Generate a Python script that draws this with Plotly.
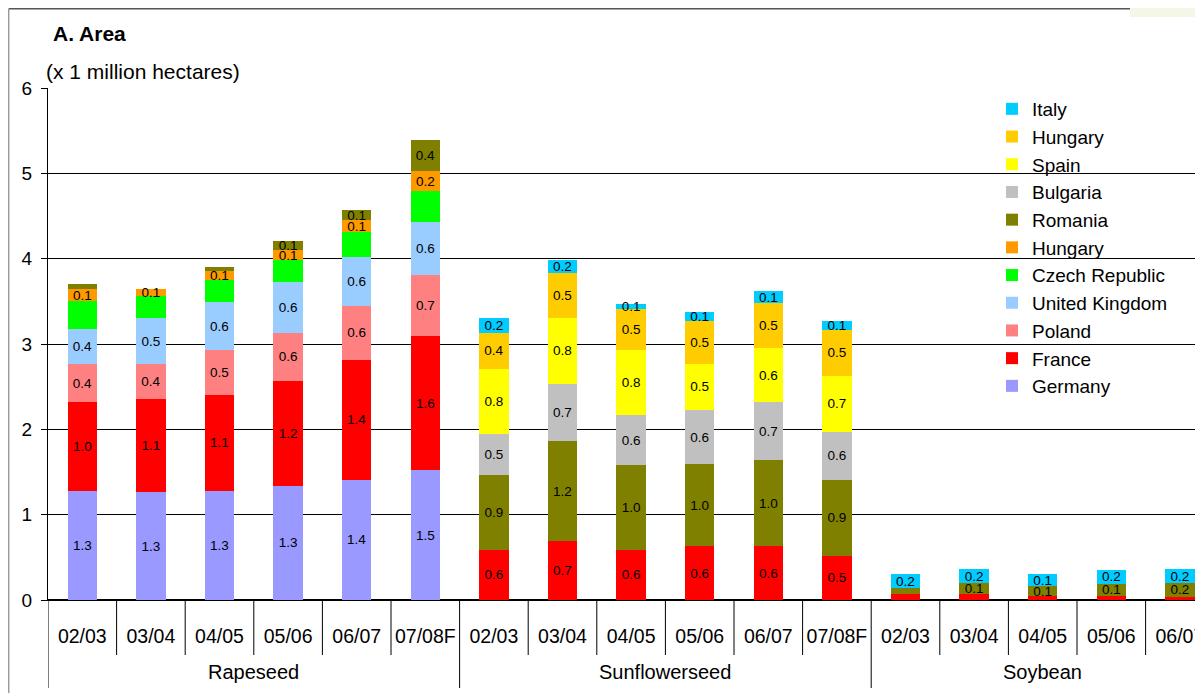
import plotly.graph_objects as go

# ---------------- data ----------------
seasons = ["02/03", "03/04", "04/05", "05/06", "06/07", "07/08F",
           "02/03", "03/04", "04/05", "05/06", "06/07", "07/08F",
           "02/03", "03/04", "04/05", "05/06", "06/07"]
crops = ["Rapeseed", "Sunflowerseed", "Soybean"]
crop_sizes = [6, 6, 5]

germany   = [1.28, 1.26, 1.28, 1.34, 1.41, 1.52, None, None, None, None, None, None, None, None, None, None, None]
france    = [1.04, 1.09, 1.12, 1.23, 1.40, 1.57, 0.59, 0.69, 0.59, 0.63, 0.63, 0.52, 0.07, 0.07, 0.05, 0.05, 0.04]
poland    = [0.44, 0.41, 0.53, 0.56, 0.64, 0.72, None, None, None, None, None, None, None, None, None, None, None]
uk        = [0.42, 0.54, 0.56, 0.60, 0.57, 0.62, None, None, None, None, None, None, None, None, None, None, None]
czech     = [0.32, 0.26, 0.26, 0.25, 0.29, 0.36, None, None, None, None, None, None, None, None, None, None, None]
hungary_r = [0.14, 0.08, 0.11, 0.12, 0.14, 0.24, None, None, None, None, None, None, None, None, None, None, None]
romania   = [0.06, None, 0.04, 0.11, 0.12, 0.36, 0.88, 1.17, 0.99, 0.96, 1.01, 0.89, 0.07, 0.13, 0.11, 0.14, 0.16]
bulgaria  = [None, None, None, None, None, None, 0.48, 0.67, 0.59, 0.64, 0.68, 0.56, None, None, None, None, None]
spain     = [None, None, None, None, None, None, 0.76, 0.78, 0.76, 0.54, 0.63, 0.66, None, None, None, None, None]
hungary_s = [None, None, None, None, None, None, 0.42, 0.52, 0.48, 0.50, 0.53, 0.53, None, None, None, None, None]
italy     = [None, None, None, None, None, None, 0.18, 0.16, 0.06, 0.11, 0.14, 0.11, 0.16, 0.16, 0.14, 0.16, 0.16]

# series: (name, values, colour, indices whose data label is not shown)
series = [
    ("Germany", germany, "#9999FF", []),
    ("France", france, "#FF0000", [12, 13, 14, 15, 16]),
    ("Poland", poland, "#FF8080", []),
    ("United Kingdom", uk, "#99CCFF", []),
    ("Czech Republic", czech, "#00FF00", list(range(17))),
    ("Hungary", hungary_r, "#FF9900", []),
    ("Romania", romania, "#808000", [0, 2, 12]),
    ("Bulgaria", bulgaria, "#C0C0C0", []),
    ("Spain", spain, "#FFFF00", []),
    ("Hungary", hungary_s, "#FFCC00", []),
    ("Italy", italy, "#00CCFF", []),
]

FONT = "Liberation Sans, Arial, sans-serif"
OFF = 8                      # page body margin
W, H = 1203 - OFF, 693 - OFF
ML, MT = 48 - OFF, 88 - OFF
MB = H - (600 - OFF)
CAT_PX = 68.6
plot_w = W - ML
plot_h = H - MT - MB
xpos = list(range(len(seasons)))


def px_x(rx):
    """screen x (reference pixels) -> paper"""
    return (rx - OFF - ML) / plot_w


def px_y(ry):
    """screen y (reference pixels) -> paper"""
    return (H - MB - (ry - OFF)) / plot_h


fig = go.Figure()
for name, vals, col, hidden in series:
    txt = ["" if (v is None or i in hidden) else f"{v:.1f}" for i, v in enumerate(vals)]
    fig.add_trace(go.Bar(
        x=xpos, y=vals, name=name, marker=dict(color=col, line=dict(width=0)),
        text=txt, textposition="inside", insidetextanchor="middle",
        textangle=0, constraintext="none",
        textfont=dict(family=FONT, size=13.5, color="black"),
        hoverinfo="name+y",
    ))

shapes = []
start = 0
group_edges = []
for size in crop_sizes:
    group_edges.append(start - 0.5)
    start += size
group_edges.append(start - 0.5)
for i in range(len(seasons) + 1):
    xe = i - 0.5
    long = xe in group_edges
    shapes.append(dict(type="line", xref="x", yref="paper", x0=xe, x1=xe,
                       y0=0, y1=px_y(688 if long else 655),
                       line=dict(color="black", width=1)))
# outer chart border (partially visible)
shapes.append(dict(type="line", xref="paper", yref="paper",
                   x0=px_x(8.7), x1=px_x(1130), y0=px_y(8.7), y1=px_y(8.7),
                   line=dict(color="#555555", width=1.5)))
shapes.append(dict(type="line", xref="paper", yref="paper",
                   x0=px_x(8.7), x1=px_x(8.7), y0=px_y(8.7), y1=px_y(700),
                   line=dict(color="#9a9a9a", width=1.5)))
shapes.append(dict(type="rect", xref="paper", yref="paper",
                   x0=px_x(1130), x1=px_x(1210), y0=px_y(0), y1=px_y(17),
                   fillcolor="#F6F6E6", line=dict(width=0), layer="below"))

annotations = []
start = 0
for crop, size in zip(crops, crop_sizes):
    annotations.append(dict(x=start + (size - 1) / 2, y=px_y(672), xref="x", yref="paper",
                            text=crop, showarrow=False, xanchor="center", yanchor="middle",
                            font=dict(family=FONT, size=20, color="black")))
    start += size
annotations.append(dict(x=px_x(51), y=px_y(33), xref="paper", yref="paper",
                        text="<b>A. Area</b>", showarrow=False, xanchor="left", yanchor="middle",
                        font=dict(family=FONT, size=21, color="black")))
annotations.append(dict(x=px_x(44), y=px_y(71), xref="paper", yref="paper",
                        text="(x 1 million hectares)", showarrow=False, xanchor="left", yanchor="middle",
                        font=dict(family=FONT, size=21, color="black")))

fig.update_layout(
    width=W, height=H,
    margin=dict(l=ML, r=0, t=MT, b=MB, pad=0),
    barmode="stack", bargap=0.57,
    plot_bgcolor="white", paper_bgcolor="white",
    font=dict(family=FONT, size=19, color="black"),
    showlegend=True,
    legend=dict(x=px_x(992), xanchor="left", y=px_y(90), yanchor="top",
                traceorder="reversed", bgcolor="rgba(0,0,0,0)",
                font=dict(family=FONT, size=19, color="black"), itemwidth=30),
    xaxis=dict(tickmode="array", tickvals=xpos, ticktext=seasons,
               range=[-0.5, -0.5 + plot_w / CAT_PX], showgrid=False, zeroline=False,
               showline=True, linecolor="black", linewidth=1, ticks="",
               ticklabelstandoff=19, ticklabeloverflow="allow",
               tickfont=dict(family=FONT, size=19.5, color="black"),
               fixedrange=True),
    yaxis=dict(range=[0, 6], dtick=1, showgrid=True, gridcolor="black", gridwidth=1,
               zeroline=True, zerolinecolor="black", showline=True, linecolor="black",
               linewidth=1, ticks="outside", ticklen=6, tickcolor="black",
               ticklabelstandoff=5, tickfont=dict(family=FONT, size=19, color="black"),
               fixedrange=True),
    shapes=shapes, annotations=annotations,
)

fig.write_html("out.html")
